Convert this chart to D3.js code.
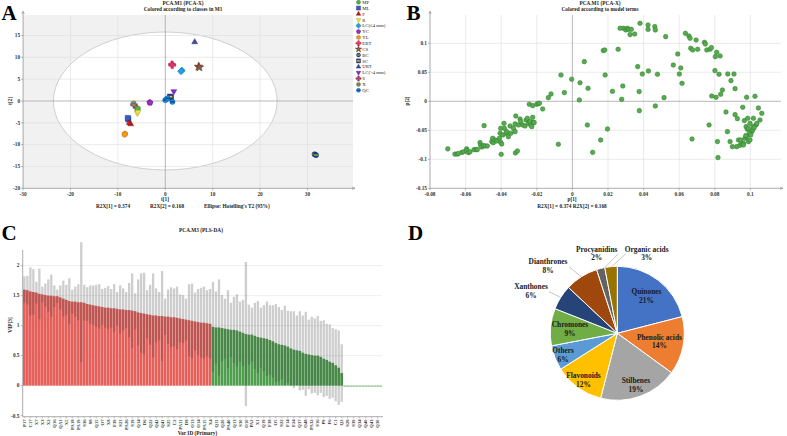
<!DOCTYPE html>
<html><head><meta charset="utf-8">
<script src="https://cdn.jsdelivr.net/npm/d3@7"></script>
<style>
body{margin:0;background:#fff}
svg{display:block}
text{font-family:"Liberation Serif","Times New Roman",serif}
</style>
</head><body>
<svg id="c" width="787" height="436"></svg>
<script>
// ---------------- Panel A data (scores t[1], t[2]) ----------------
const classNamesA = ["MP","ML","F","R","LC(≤4 mm)","YC","YL","EBT","CS","BC","SC","URT","LC(>4 mm)","S","X","QC"];
const classPointsA = [
  [[-5.9,-2.0],[-5.8,-1.7]],            // MP
  [[-7.8,-4.2],[-7.9,-3.9]],            // ML
  [[-7.3,-5.3],[-7.6,-5.0]],            // F
  [[-5.9,-2.8],[-5.8,-2.5]],            // R
  [[3.5,7.0],[3.3,6.8]],                // LC(≤4 mm)
  [[-3.3,-0.3],[-3.2,-0.4]],            // YC
  [[-8.5,-7.5],[-8.6,-7.7]],            // YL
  [[1.4,8.4],[1.5,8.2]],                // EBT
  [[7.0,7.9],[7.2,7.7]],                // CS
  [[31.5,-12.2],[31.8,-12.4]],          // BC
  [[1.2,0.8],[1.0,1.0]],                // SC
  [[6.2,13.5]],                         // URT
  [[1.8,2.2]],                          // LC(>4 mm)
  [[-6.6,-0.9]],                        // S
  [[-6.7,-0.6]],                        // X
  [[0.2,0.4],[0.0,0.2],[0.5,0.6],[1.5,-0.2]] // QC
];
const ticksAx = [-30,-20,-10,0,10,20,30];
const ticksAy = [-20,-15,-10,-5,0,5,10,15];
const ellipseA = [23.6, 15.8];

// ---------------- Panel B data (loadings p[1], p[2]) ----------------
const loadingsB = [
[-0.070,-0.082],[-0.066,-0.091],[-0.0646,-0.091],[-0.064,-0.090],[-0.062,-0.088],[-0.061,-0.087],[-0.0594,-0.082],[-0.0594,-0.085],[-0.0584,-0.0885],[-0.0575,-0.087],
[-0.0552,-0.0833],[-0.054,-0.0833],[-0.0534,-0.0833],[-0.0519,-0.0713],[-0.0515,-0.0759],[-0.0509,-0.0787],[-0.050,-0.0764],[-0.049,-0.077],[-0.0478,-0.077],[-0.0496,-0.042],
[-0.0453,-0.0695],[-0.0448,-0.0638],[-0.0444,-0.0713],[-0.0434,-0.0667],[-0.0425,-0.0684],[-0.041,-0.0638],[-0.0406,-0.0552],[-0.0403,-0.0466],[-0.0403,-0.0707],[-0.0397,-0.0736],
[-0.040,-0.0914],[-0.0391,-0.058],[-0.0384,-0.038],[-0.0382,-0.0466],[-0.0373,-0.0552],[-0.0369,-0.0523],[-0.036,-0.061],[-0.035,-0.0425],[-0.0346,-0.0552],[-0.0331,-0.0466],
[-0.0322,-0.039],[-0.0322,-0.0523],[-0.0318,-0.0253],[-0.032,-0.089],[-0.0309,-0.0856],[-0.0303,-0.0408],[-0.0294,-0.0305],[-0.029,-0.035],[-0.0279,-0.0408],[-0.0266,-0.0425],
[-0.026,-0.0322],[-0.0253,-0.0293],[-0.0247,-0.038],[-0.0242,-0.005],[-0.0238,-0.035],[-0.0234,-0.0408],[-0.0228,-0.0437],[-0.0223,-0.0276],[-0.0219,-0.0362],[-0.0215,-0.0368],
[-0.0223,-0.0075],[-0.020,-0.005],[-0.0191,-0.004],[-0.0185,-0.0034],[-0.0167,-0.0132],[-0.0135,0.0063],[-0.012,0.0126],[-0.0079,-0.0741],[-0.0064,0.0454],[-0.0045,0.015],
[-0.0004,0.038],[0.0039,0.0023],[0.0043,0.032],[0.0084,-0.0408],[0.0088,0.0224],[0.0067,0.0684],[0.0114,-0.088],[0.0159,-0.0667],[0.0174,0.0874],[0.0182,0.0885],
[0.0184,0.0454],[0.0197,-0.0477],[0.0225,0.0172],[0.0257,0.0897],[0.0277,0.0034],[0.0283,0.0264],[0.0287,0.1259],[0.0268,0.1259],[0.030,0.123],[0.0309,0.1259],
[0.0316,0.1241],[0.0324,0.115],[0.0331,0.1241],[0.035,0.116],[0.0367,0.0598],[0.0375,0.0167],[0.0376,-0.0161],[0.038,0.1345],[0.0393,0.0471],[0.0425,0.1316],
[0.0425,0.1241],[0.0427,0.0523],[0.0466,-0.008],[0.0463,0.1287],[0.0466,0.123],[0.0478,0.0466],[0.0515,0.0063],[0.0524,0.1115],[0.0567,0.0626],[0.0592,0.0816],
[0.0601,0.0471],[0.0609,0.0575],[0.0616,0.031],[0.0635,0.1172],[0.0655,0.1126],[0.0661,0.1086],[0.0665,0.0914],[0.0676,0.0885],[0.0672,-0.065],[0.0695,0.1057],
[0.0704,0.0897],[0.0742,0.1017],[0.0747,0.0989],[0.0755,0.0885],[0.0773,0.0897],[0.0781,0.0925],[0.0768,-0.0408],[0.0783,0.0092],[0.0801,0.0529],[0.0803,0.077],
[0.0807,0.0069],[0.0811,0.0845],[0.0815,-0.0695],[0.0818,-0.0971],[0.0824,0.0466],[0.083,0.0782],[0.0833,0.0121],[0.0843,0.0195],[0.0863,-0.0184],[0.0871,-0.0523],
[0.0873,0.0471],[0.0886,-0.0695],[0.0891,0.0356],[0.0899,-0.0782],[0.0908,0.0471],[0.0914,0.0218],[0.0914,-0.023],[0.0923,-0.0782],[0.0927,-0.0299],[0.0933,-0.0667],
[0.0942,-0.0759],[0.0951,-0.0724],[0.0957,-0.0103],[0.0961,-0.0724],[0.0966,-0.0333],[0.0979,0.0069],[0.0985,-0.0293],[0.0989,-0.0695],[0.0998,-0.0667],[0.1007,-0.0523],
[0.1017,-0.0437],[0.1017,-0.0293],[0.1026,0.0086],[0.1032,-0.0408],[0.1036,-0.038],[0.1045,-0.0115],[0.1054,-0.0322],[0.1064,-0.0207],[0.0976,-0.0437],[0.0983,-0.0483],
[0.0994,-0.0552],[0.1002,-0.058],[0.1013,-0.0494],[0.1021,-0.0454],[0.097,-0.0638],[0.0979,-0.0609],[0.0961,-0.0753],[0.0974,-0.0592],[0.0946,-0.0667],[0.0989,-0.0466],
[0.0998,-0.038]
];
const ticksBx = [-0.08,-0.06,-0.04,-0.02,0,0.02,0.04,0.06,0.08,0.1];
const ticksBy = [-0.15,-0.1,-0.05,0,0.05,0.1];

// ---------------- Panel C data (VIP with confidence intervals) ----------------
const vipRed = [1.60,1.59,1.57,1.56,1.55,1.53,1.52,1.51,1.50,1.50,
1.49,1.49,1.47,1.45,1.43,1.41,1.40,1.40,1.39,1.39,
1.38,1.36,1.35,1.34,1.33,1.32,1.31,1.30,1.30,1.29,
1.29,1.28,1.27,1.27,1.26,1.26,1.25,1.24,1.22,1.21,
1.20,1.19,1.18,1.17,1.17,1.16,1.16,1.15,1.15,1.14,
1.14,1.13,1.12,1.11,1.10,1.09,1.08,1.07,1.06,1.05,
1.05,1.04,1.03];
const ciRed = [0.22,0.24,0.40,0.38,0.18,0.42,0.13,0.19,0.27,0.35,
0.18,0.11,0.20,0.30,0.25,0.38,0.20,0.25,0.30,1.00,
0.30,0.28,0.32,0.33,0.35,0.37,0.30,0.33,0.36,0.32,
0.40,0.28,0.40,0.35,0.30,0.45,0.62,0.30,0.55,0.66,
0.68,0.40,0.50,0.70,0.45,0.40,0.75,0.30,0.45,0.50,
0.48,0.52,0.40,0.40,0.35,0.60,0.62,0.48,0.55,0.58,
0.60,0.55,0.58];
const vipGreen = [0.98,0.97,0.97,0.96,0.95,0.94,0.93,0.93,0.92,0.90,
0.88,0.86,0.85,0.85,0.83,0.81,0.80,0.79,0.78,0.76,
0.74,0.71,0.69,0.68,0.67,0.65,0.62,0.60,0.59,0.58,
0.55,0.53,0.52,0.51,0.50,0.50,0.48,0.45,0.43,0.40,
0.38,0.34,0.30,0.21];
const ciGreen = [0.75,0.60,0.80,0.55,0.50,0.65,0.45,0.55,0.60,0.50,
0.55,1.20,0.50,0.45,0.55,0.60,0.50,0.55,0.62,0.58,
0.60,0.65,0.62,0.58,0.66,0.60,0.62,0.64,0.58,0.66,
0.62,0.70,0.58,0.64,0.62,0.66,0.60,0.64,0.60,0.62,
0.58,0.60,0.62,0.48];
const vipZero = [0,0,0,0,0,0,0,0,0,0,0,0,0];
const varLabels = ["P17","C17","X7","X3","X2","Q16","QA1","X5","PA18","PA19",
"S36","S8","Q15","O7","X8","F39","S21","PA26","S19","Q14",
"D6","Q22","Q42","Q41","S25","C2","PA11","D8","O13","O14",
"PA15","X4","Q11","Q20","PA40","Q13","S30","O10","PA2","X1",
"Q19","F38","O5","S22","F14","F24","Q37","O48","PA32","S16",
"P9","F6","C1","Q2","S29","S39","Q34","Q40","Q43","Q30"];
const ticksCy = [-0.5,0,0.5,1,1.5,2];

// ---------------- Panel D data (pie) ----------------
const pieCategories = ["Quinones","Phenolic acids","Stilbenes","Flavonoids","Others","Chromones","Xanthones","Dianthrones","Procyanidins","Organic acids"];
const pieValues = [21,14,19,12,6,9,6,8,2,3];

// ================= drawing =================
const svg = d3.select("#c");

function bigLetter(t,x,y){
  svg.append("text").attr("x",x).attr("y",y).attr("font-size",21).attr("font-weight","bold").text(t);
}
function smallText(t,x,y,opts={}){
  return svg.append("text").attr("x",x).attr("y",y).attr("font-size",opts.size||5.3)
    .attr("font-weight",opts.bold===false?"normal":"bold").attr("text-anchor",opts.anchor||"middle")
    .attr("fill",opts.fill||"#222").text(t);
}

function frame(g, x, y, xt, yt, x0, x1, y0, y1){
  g.selectAll(".gx").data(xt.filter(d=>d!==0 && x(d)>x0+1)).join("line")
    .attr("x1",d=>x(d)).attr("x2",d=>x(d)).attr("y1",y1).attr("y2",y0)
    .attr("stroke","#dedede").attr("stroke-width",0.6);
  g.selectAll(".gy").data(yt.filter(d=>d!==0 && y(d)<y0-1)).join("line")
    .attr("y1",d=>y(d)).attr("y2",d=>y(d)).attr("x1",x0).attr("x2",x1)
    .attr("stroke","#dedede").attr("stroke-width",0.6);
  g.append("line").attr("x1",x(0)).attr("x2",x(0)).attr("y1",y1).attr("y2",y0).attr("stroke","#a6a6a6").attr("stroke-width",0.8);
  g.append("line").attr("y1",y(0)).attr("y2",y(0)).attr("x1",x0).attr("x2",x1).attr("stroke","#a6a6a6").attr("stroke-width",0.8);
}
function axes(g, x, y, xt, yt, fmtX, fmtY, x0, x1, y0, y1){
  g.append("line").attr("x1",x0).attr("x2",x0).attr("y1",y0).attr("y2",y1-3).attr("stroke","#888").attr("stroke-width",0.7);
  g.append("line").attr("x1",x0).attr("x2",x1+2).attr("y1",y0).attr("y2",y0).attr("stroke","#888").attr("stroke-width",0.7);
  g.append("path").attr("d",`M${x0-1.2},${y1-1}L${x0},${y1-4}L${x0+1.2},${y1-1}`).attr("fill","none").attr("stroke","#888").attr("stroke-width",0.6);
  g.append("path").attr("d",`M${x1-1},${y0-1.2}L${x1+2},${y0}L${x1-1},${y0+1.2}`).attr("fill","none").attr("stroke","#888").attr("stroke-width",0.6);
  g.selectAll(".tx").data(xt).join("line").attr("x1",d=>x(d)).attr("x2",d=>x(d)).attr("y1",y0).attr("y2",y0+2).attr("stroke","#888").attr("stroke-width",0.6);
  g.selectAll(".ty").data(yt).join("line").attr("y1",d=>y(d)).attr("y2",d=>y(d)).attr("x1",x0).attr("x2",x0-2).attr("stroke","#888").attr("stroke-width",0.6);
  g.selectAll(".lx").data(xt).join("text").attr("x",d=>x(d)).attr("y",y0+7.5).attr("text-anchor","middle")
    .attr("font-size",5.3).attr("font-weight","bold").attr("fill","#333").text(fmtX);
  g.selectAll(".ly").data(yt).join("text").attr("x",x0-3).attr("y",d=>y(d)+1.8).attr("text-anchor","end")
    .attr("font-size",5.3).attr("font-weight","bold").attr("fill","#333").text(fmtY);
}

// ---------- Panel A ----------
const xA = d3.scaleLinear().domain([-30,39.6]).range([23.1,353]);
const yA = d3.scaleLinear().domain([-20,19.7]).range([188.3,15]);
const gA = svg.append("g");
gA.append("rect").attr("x",xA(-30)).attr("y",15).attr("width",353-xA(-30)).attr("height",188.3-15).attr("fill","#f1f1f1");
gA.append("ellipse").attr("cx",xA(0)).attr("cy",yA(0))
  .attr("rx",xA(ellipseA[0])-xA(0)).attr("ry",yA(0)-yA(ellipseA[1]))
  .attr("fill","#fff").attr("stroke","#c4c4c4").attr("stroke-width",0.8);
frame(gA,xA,yA,ticksAx,ticksAy,xA(-30),353,188.3,15);
axes(gA,xA,yA,ticksAx,ticksAy,d=>d,d=>d,xA(-30),353,188.3,15);

const styleA = {
 "MP":{t:"circle",f:"#52b04a",s:"#2e7d2a"},
 "ML":{t:"square",f:"#3a5cc8",s:"#1d3685"},
 "F":{t:"tri",f:"#c41e1e",s:"#7a0e0e"},
 "R":{t:"tridown",f:"#f4e64c",s:"#a89a10"},
 "LC(≤4 mm)":{t:"diamond",f:"#1ea3e8",s:"#0b6aa0"},
 "YC":{t:"pent",f:"#9a30c8",s:"#5c1280"},
 "YL":{t:"hex",f:"#f59a1e",s:"#b06a08"},
 "EBT":{t:"plus",f:"#e23a6e",s:"#a01a44"},
 "CS":{t:"star",f:"#8c5a3c",s:"#5a3420"},
 "BC":{t:"circle",f:"#283c80",s:"#141e50",stripe:"#6ab04c"},
 "SC":{t:"square",f:"#283c80",s:"#141e50",stripe:"#e8c82c"},
 "URT":{t:"tri",f:"#3c4ca4",s:"#1e2866"},
 "LC(>4 mm)":{t:"tridown",f:"#8a2ad2",s:"#50108a"},
 "S":{t:"plus",f:"#d83a3a",s:"#2a3c90"},
 "X":{t:"circle",f:"#a8a030",s:"#4a5a20",stripe:"#3c6ec8"},
 "QC":{t:"circle",f:"#1e90dc",s:"#0c4c9a",stripe:"#0c4c9a"}
};
function poly(n,r,rot){
  const p=[];for(let i=0;i<n;i++){const a=rot+i*2*Math.PI/n;p.push([r*Math.sin(a),-r*Math.cos(a)]);}
  return "M"+p.map(q=>q.join(",")).join("L")+"Z";
}
function plusPath(r){const w=r*0.32;return `M${-w},${-r}H${w}V${-w}H${r}V${w}H${w}V${r}H${-w}V${w}H${-r}V${-w}H${-w}Z`;}
function marker(g,name,cx,cy,r){
  const st=styleA[name];
  const m=g.append("g").attr("transform",`translate(${cx},${cy})`);
  let d;
  switch(st.t){
    case "circle": d=d3.symbol(d3.symbolCircle,Math.PI*r*r)(); break;
    case "square": d=`M${-r},${-r}H${r}V${r}H${-r}Z`; break;
    case "tri": d=poly(3,r*1.3,0); break;
    case "tridown": d=poly(3,r*1.3,Math.PI); break;
    case "diamond": d=poly(4,r*1.3,0); break;
    case "pent": d=poly(5,r*1.15,0); break;
    case "hex": d=poly(6,r*1.1,0); break;
    case "plus": d=plusPath(r*1.3); break;
    case "star": d=d3.symbol(d3.symbolStar,r*r*3.4)(); break;
  }
  m.append("path").attr("d",d).attr("fill",st.f).attr("stroke",st.s).attr("stroke-width",0.45);
  if(st.stripe){
    m.append("rect").attr("x",-r*0.85).attr("y",-r*0.3).attr("width",r*1.7).attr("height",r*0.6).attr("fill",st.stripe);
  }
}
classNamesA.forEach((n,i)=>{
  classPointsA[i].forEach(p=>marker(gA,n,xA(p[0]),yA(p[1]),2.6));
});
classNamesA.forEach((n,i)=>{
  const yy=2.2+i*5.87;
  marker(svg,n,358.5,yy,2.0);
  svg.append("text").attr("x",362.3).attr("y",yy+1.7).attr("font-size",4.8).attr("fill","#222").text(n);
});
bigLetter("A",1.5,20);
smallText("PCA.M1 (PCA-X)",183,5.2);
smallText("Colored according to classes in M1",183,10.8);
smallText("t[1]",165,201);
smallText("R2X[1] = 0.374",113,208);
smallText("R2X[2] = 0.168",167,208);
smallText("Ellipse: Hotelling's T2 (95%)",204,208,{anchor:"start"});
svg.append("text").attr("transform","translate(11.5,101) rotate(-90)").attr("text-anchor","middle")
  .attr("font-size",5.3).attr("font-weight","bold").attr("fill","#222").text("t[2]");

// ---------- Panel B ----------
const xB = d3.scaleLinear().domain([-0.08,0.1185]).range([430,783.3]);
const yB = d3.scaleLinear().domain([-0.15,0.1488]).range([188.3,15]);
const gB = svg.append("g");
frame(gB,xB,yB,ticksBx,ticksBy,430,781,188.3,15);
axes(gB,xB,yB,ticksBx,ticksBy,d=>d===0?"0":String(d),d=>d===0?"0":String(d),430,781,188.3,15);
gB.selectAll(".pt").data(loadingsB).join("circle")
  .attr("cx",d=>xB(d[0])).attr("cy",d=>yB(d[1])).attr("r",2.3)
  .attr("fill","#55ab4e").attr("stroke","#2f7a2c").attr("stroke-width",0.5);
bigLetter("B",406.5,19.5);
smallText("PCA.M1 (PCA-X)",600,5.2);
smallText("Colored according to model terms",600,10.8);
smallText("p[1]",572,201);
smallText("R2X[1] = 0.374 R2X[2] = 0.168",572,208);
svg.append("text").attr("transform","translate(409,101) rotate(-90)").attr("text-anchor","middle")
  .attr("font-size",5.3).attr("font-weight","bold").attr("fill","#222").text("p[2]");

// ---------- Panel C ----------
const vip = vipRed.concat(vipGreen, vipZero);
const ci = ciRed.concat(ciGreen, vipZero);
const nRed = vipRed.length, nGreen = vipGreen.length;
const xC = d3.scaleBand().domain(d3.range(vip.length)).range([23,382]).paddingInner(0.08);
const yC = d3.scaleLinear().domain([-0.5,2.21]).range([415.7,253]);
const gC = svg.append("g");
gC.selectAll(".gcy").data(ticksCy.filter(d=>d>0)).join("line")
  .attr("x1",23).attr("x2",382).attr("y1",d=>yC(d)).attr("y2",d=>yC(d)).attr("stroke","#e2e2e2").attr("stroke-width",0.6);
const colorC = i => i<nRed ? "#e5605a" : (i<nRed+nGreen ? "#4f9f4f" : "#4a9a4a");
gC.selectAll(".bar").data(vip).join("rect")
  .attr("x",(d,i)=>xC(i)).attr("width",xC.bandwidth())
  .attr("y",d=>yC(d)).attr("height",d=>Math.max(0.8,yC(0)-yC(d)))
  .attr("fill",(d,i)=>colorC(i));
gC.selectAll(".ci").data(vip).join("rect")
  .filter((d,i)=>ci[i]>0)
  .attr("x",(d,i)=>xC(i)+xC.bandwidth()*0.08).attr("width",xC.bandwidth()*0.84)
  .attr("y",(d,i)=>yC(d+ci[i])).attr("height",(d,i)=>yC(d-ci[i])-yC(d+ci[i]))
  .attr("fill","rgba(60,60,60,0.25)");
gC.append("line").attr("x1",22.7).attr("x2",22.7).attr("y1",250).attr("y2",416.7).attr("stroke","#888").attr("stroke-width",0.7);
gC.append("line").attr("x1",22.7).attr("x2",383).attr("y1",416.7).attr("y2",416.7).attr("stroke","#888").attr("stroke-width",0.7);
gC.selectAll(".tcy").data(ticksCy).join("line").attr("x1",20.7).attr("x2",22.7).attr("y1",d=>yC(d)).attr("y2",d=>yC(d)).attr("stroke","#888").attr("stroke-width",0.6);
gC.selectAll(".lcy").data(ticksCy).join("text").attr("x",19.5).attr("y",d=>yC(d)+1.8).attr("text-anchor","end")
  .attr("font-size",5.3).attr("font-weight","bold").attr("fill","#333").text(d=>d);
gC.selectAll(".tcx").data(varLabels).join("line")
  .attr("x1",(d,i)=>xC(i*2)+xC.bandwidth()/2).attr("x2",(d,i)=>xC(i*2)+xC.bandwidth()/2)
  .attr("y1",416.7).attr("y2",418.5).attr("stroke","#888").attr("stroke-width",0.5);
gC.selectAll(".lcx").data(varLabels).join("text")
  .attr("transform",(d,i)=>`translate(${xC(i*2)+xC.bandwidth()/2+1.6},419.5) rotate(-90)`)
  .attr("text-anchor","end").attr("font-size",4.6).attr("font-weight","bold").attr("fill","#333").text(d=>d);
bigLetter("C",1.5,240);
smallText("PCA.M3 (PLS-DA)",201,231.5);
smallText("Var ID (Primary)",197.5,434.5);
svg.append("text").attr("transform","translate(11.5,325) rotate(-90)").attr("text-anchor","middle")
  .attr("font-size",5.3).attr("font-weight","bold").attr("fill","#222").text("VIP[3]");

// ---------- Panel D ----------
bigLetter("D",408,240);
const pieColors = ["#4472c4","#ed7d31","#a5a5a5","#ffc000","#5b9bd5","#70ad47","#264478","#9e480e","#636363","#997300"];
const cx=617.3, cy=333.3, R=67;
const pie = d3.pie().sort(null).value(d=>d)(pieValues);
const arc = d3.arc().innerRadius(0).outerRadius(R);
const gD = svg.append("g").attr("transform",`translate(${cx},${cy})`);
gD.selectAll(".sl").data(pie).join("path").attr("d",arc)
  .attr("fill",(d,i)=>pieColors[i]).attr("stroke","#fff").attr("stroke-width",1);
const labelR = [0.71,0.64,0.82,0.86,0.87,0.71];
const outside = {6:[531-cx,291-cy],7:[548-cx,266-cy],8:[596.7-cx,253.3-cy],9:[646.7-cx,253.3-cy]};
const leader = {6:[[549,291.7],[560.5,297.2]],7:[[569,266.7],[581,276.5]],8:[[618,254],[604,268.5]],9:[[625.5,254],[611.5,267]]};
pie.forEach((d,i)=>{
  let lx,ly;
  const a=(d.startAngle+d.endAngle)/2;
  if(i<6){ lx=Math.sin(a)*R*labelR[i]; ly=-Math.cos(a)*R*labelR[i]; }
  else { lx=outside[i][0]; ly=outside[i][1];
    gD.append("polyline").attr("points",leader[i].map(p=>[p[0]-cx,p[1]-cy].join(",")).join(" "))
      .attr("fill","none").attr("stroke","#a0a0a0").attr("stroke-width",0.6);
  }
  const t=gD.append("text").attr("text-anchor","middle").attr("font-size",7.4).attr("font-weight","bold").attr("fill","#1a1a1a");
  t.append("tspan").attr("x",lx).attr("y",ly-1.6).text(pieCategories[i]);
  t.append("tspan").attr("x",lx).attr("y",ly+6.8).text(d.data+"%");
});
</script>
</body></html>
